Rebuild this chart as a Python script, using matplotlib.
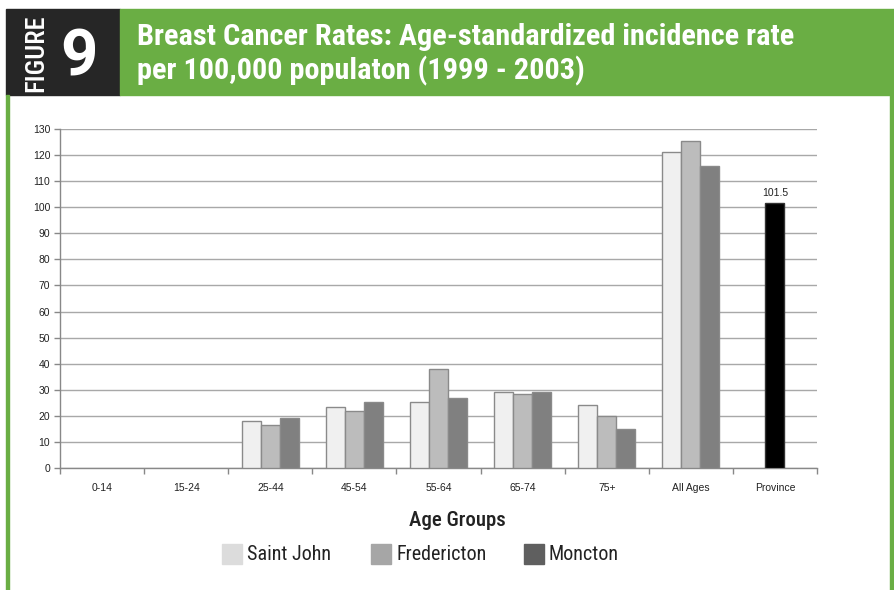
import matplotlib
matplotlib.use("Agg")
import matplotlib.pyplot as plt
import numpy as np
from matplotlib.patches import Rectangle

categories = ["0-14", "15-24", "25-44", "45-54", "55-64", "65-74", "75+", "All Ages", "Province"]
saint_john = [0, 0, 18, 23.5, 25.5, 29, 24, 121, None]
fredericton = [0, 0, 16.5, 22, 38, 28.5, 20, 125.5, None]
moncton = [0, 0, 19, 25.5, 27, 29, 15, 116, None]
province = [None, None, None, None, None, None, None, None, 101.5]
series_names = ["Saint John", "Fredericton", "Moncton"]
yticks = list(range(0, 131, 10))

W, H = 894, 590
fig = plt.figure(figsize=(W / 100, H / 100), dpi=100)
cond = ["Roboto Condensed", "DejaVu Sans"]
arial = ["Liberation Sans", "DejaVu Sans"]

def fx(x):
    return x / W

def fy(y):
    return 1 - y / H

# header
fig.patches.append(Rectangle((fx(6), fy(95)), fx(120) - fx(6), fy(9) - fy(95),
                             transform=fig.transFigure, color="#262626", zorder=0))
fig.patches.append(Rectangle((fx(120), fy(95)), fx(894) - fx(120), fy(9) - fy(95),
                             transform=fig.transFigure, color="#6aae44", zorder=0))
# side borders
fig.patches.append(Rectangle((fx(6), fy(590)), fx(9) - fx(6), fy(95) - fy(590),
                             transform=fig.transFigure, color="#6aae44", zorder=0))
fig.patches.append(Rectangle((fx(890), fy(590)), fx(893) - fx(890), fy(95) - fy(590),
                             transform=fig.transFigure, color="#6aae44", zorder=0))

fig.text(fx(36), fy(53), "FIGURE", rotation=90, ha="center", va="center",
         color="white", fontsize=19, fontweight=500, family=cond)
fig.text(fx(79), fy(75), "9", ha="center", va="baseline", color="white",
         fontsize=47, fontweight="bold", family=["Roboto", "DejaVu Sans"])
fig.text(fx(137), fy(45), "Breast Cancer Rates: Age-standardized incidence rate",
         ha="left", va="baseline", color="white", fontsize=21.8, fontweight="bold", family=cond)
fig.text(fx(137), fy(79), "per 100,000 populaton (1999 - 2003)",
         ha="left", va="baseline", color="white", fontsize=21.8, fontweight="bold", family=cond)

ax = fig.add_axes([fx(60), fy(468), fx(817) - fx(60), fy(129) - fy(468)])
x = np.arange(len(categories))
bw = 0.226
colors = ["#f0f0f0", "#bcbcbc", "#808080"]
for i, (vals, c) in enumerate(zip([saint_john, fredericton, moncton], colors)):
    xs = [xi + (i - 1) * bw for xi, v in zip(x, vals) if v]
    vs = [v for v in vals if v]
    ax.bar(xs, vs, width=bw, color=c, edgecolor="#8a8a8a", linewidth=1.0, zorder=3)
pv = [(xi, v) for xi, v in zip(x, province) if v]
ax.bar([p[0] for p in pv], [p[1] for p in pv], width=bw, color="black",
       edgecolor="#333333", linewidth=1.0, zorder=3)
for xi, v in pv:
    ax.text(xi, v + 2, f"{v}", ha="center", va="bottom", fontsize=7.5, family=arial, color="#222222")

ax.set_xlim(-0.5, len(categories) - 0.5)
ax.set_ylim(0, 130)
ax.set_yticks(yticks)
ax.set_yticklabels([str(t) for t in yticks], fontsize=7.5, family=arial, color="#222222")
ax.set_xticks(x)
ax.set_xticklabels(categories, fontsize=7.5, family=arial, color="#222222")
ax.tick_params(axis="x", length=0, pad=11)
ax.set_xticks(np.arange(-0.5, len(categories), 1), minor=True)
ax.tick_params(axis="x", which="minor", length=4, color="#888888", width=1)
ax.tick_params(axis="y", length=4, color="#888888", width=1, pad=3)
ax.grid(axis="y", color="#a8a8a8", linewidth=1.0, zorder=0)
ax.set_axisbelow(True)
for s in ["top", "right"]:
    ax.spines[s].set_visible(False)
for s in ["left", "bottom"]:
    ax.spines[s].set_color("#888888")
    ax.spines[s].set_linewidth(1.0)

fig.text(fx(457), fy(520), "Age Groups", ha="center", va="center", fontsize=15,
         fontweight=500, family=cond, color="#222222")

leg_colors = ["#dcdcdc", "#a6a6a6", "#5f5f5f"]
leg_x = [222, 371, 524]
for name, c, lx in zip(series_names, leg_colors, leg_x):
    fig.patches.append(Rectangle((fx(lx), fy(564)), fx(20), 20 / H,
                                 transform=fig.transFigure, color=c))
    fig.text(fx(lx + 25), fy(554), name, ha="left", va="center", fontsize=14.5,
             family=cond, color="#222222")

fig.savefig("out.png", dpi=100)
